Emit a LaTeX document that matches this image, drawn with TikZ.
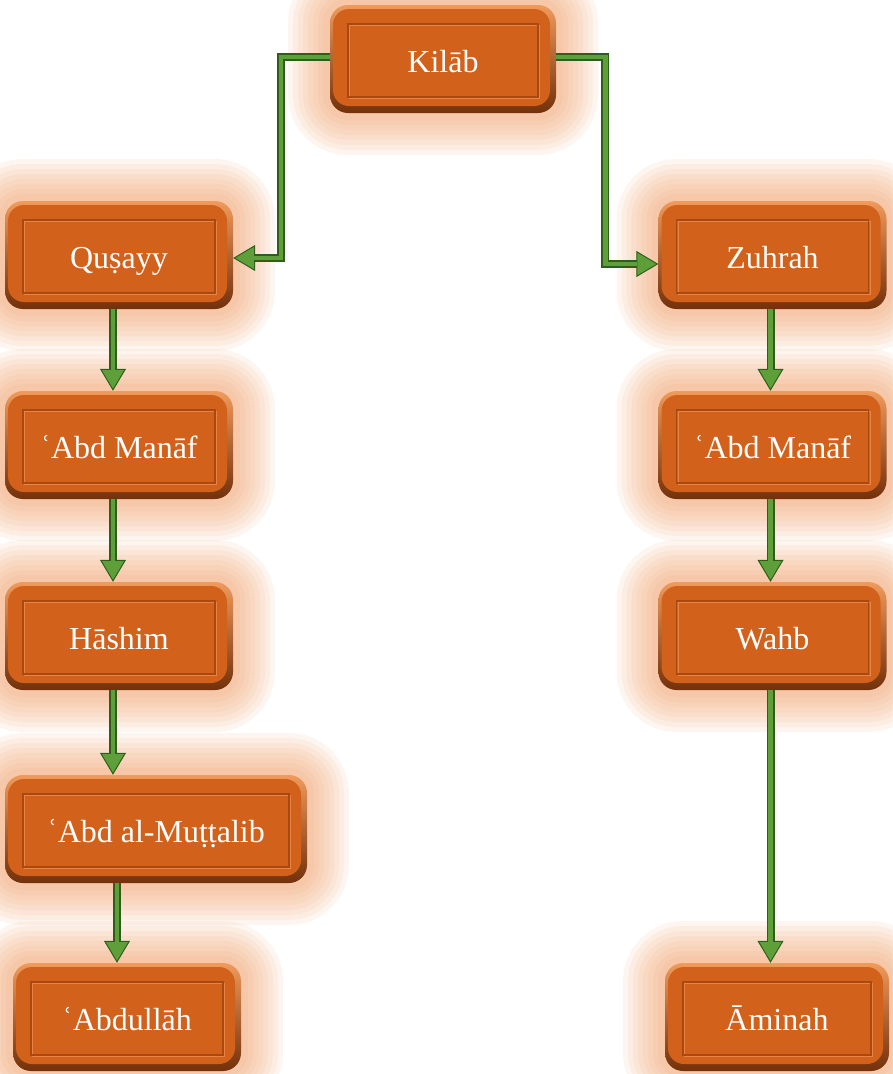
\documentclass[tikz,border=0pt]{standalone}
\usepackage{fontspec}
\setmainfont{Liberation Serif}
\newfontfamily\famfont{Liberation Serif}
\usetikzlibrary{arrows.meta,calc}
\definecolor{boxmain}{HTML}{D2611B}
\definecolor{boxlight}{HTML}{F09A5C}
\definecolor{boxdark}{HTML}{73300A}
\definecolor{glowcol}{HTML}{F39C62}
\definecolor{innerline}{HTML}{A9480F}
\definecolor{innerlight}{HTML}{E88446}
\definecolor{gdark}{HTML}{2F5E1C}
\definecolor{gmid}{HTML}{5E9F3A}
\tikzset{
  glowlayer/.style={preaction={draw=glowcol, draw opacity=0.09, line width=#1}},
  famnode/.style={
    rounded corners=18pt, minimum width=#1, minimum height=108pt, inner sep=0pt,
    text height=27.5pt, text depth=0pt,
    text=white, font=\famfont\fontsize{32}{38}\selectfont,
    glowlayer=84pt, glowlayer=74pt, glowlayer=64pt, glowlayer=54pt,
    glowlayer=44pt, glowlayer=34pt, glowlayer=24pt, glowlayer=14pt,
    top color=boxlight, bottom color=boxdark,
    path picture={
      \fill[boxmain, rounded corners=16pt]
        ([shift={(3pt,-4pt)}]path picture bounding box.north west) rectangle
        ([shift={(-6pt,7pt)}]path picture bounding box.south east);
      \draw[innerlight, line width=1pt, sharp corners]
        ([shift={(19.5pt,-20.5pt)}]path picture bounding box.north west) rectangle
        ([shift={(-16.5pt,14.5pt)}]path picture bounding box.south east);
      \draw[innerline, line width=1.2pt, sharp corners]
        ([shift={(18pt,-19pt)}]path picture bounding box.north west) rectangle
        ([shift={(-18pt,16pt)}]path picture bounding box.south east);
    }
  },
  famnode/.default=228pt,
  conn/.style={
    draw=gdark, line width=8pt,
    -{Triangle[width=26pt,length=22pt,line width=1pt,fill=gmid]},
    postaction={draw=gmid, line width=4.5pt, -, shorten >=21pt}
  }
}
\begin{document}
\begin{tikzpicture}[x=1pt,y=1pt]
\useasboundingbox[fill=white] (0,0) rectangle (892,-1074);
\node[famnode=226pt] (kilab) at (443,-59) {Kilāb};
\node[famnode] (qusayy) at (119,-255) {Quṣayy};
\node[famnode] (zuhrah) at (772.5,-255) {Zuhrah};
\node[famnode] (abdmanafL) at (119,-445) {ʿAbd Manāf};
\node[famnode] (abdmanafR) at (772.5,-445) {ʿAbd Manāf};
\node[famnode] (hashim) at (119,-636) {Hāshim};
\node[famnode] (wahb) at (772.5,-636) {Wahb};
\node[famnode=302pt] (muttalib) at (156,-829) {ʿAbd al-Muṭṭalib};
\node[famnode] (abdullah) at (127,-1017) {ʿAbdullāh};
\node[famnode=224pt] (aminah) at (777,-1017) {Āminah};

\draw[conn] ([yshift=2pt]kilab.west) -| ($([yshift=-3pt]qusayy.east)+(48pt,0)$) -- ([yshift=-3pt]qusayy.east);
\draw[conn] ([yshift=2pt]kilab.east) -| ($([yshift=-9pt]zuhrah.west)+(-53pt,0)$) -- ([yshift=-9pt]zuhrah.west);
\draw[conn] ([xshift=-6pt]qusayy.south) -- ([xshift=-6pt]abdmanafL.north);
\draw[conn] ([xshift=-6pt]abdmanafL.south) -- ([xshift=-6pt]hashim.north);
\draw[conn] ([xshift=-6pt]hashim.south) -- ([xshift=-6pt]hashim.south |- muttalib.north);
\draw[conn] ([xshift=-10pt]abdullah.north |- muttalib.south) -- ([xshift=-10pt]abdullah.north);
\draw[conn] ([xshift=-2pt]zuhrah.south) -- ([xshift=-2pt]abdmanafR.north);
\draw[conn] ([xshift=-2pt]abdmanafR.south) -- ([xshift=-2pt]wahb.north);
\draw[conn] ([xshift=-2pt]wahb.south) -- ([xshift=-2pt]wahb.south |- aminah.north);
\end{tikzpicture}
\end{document}
